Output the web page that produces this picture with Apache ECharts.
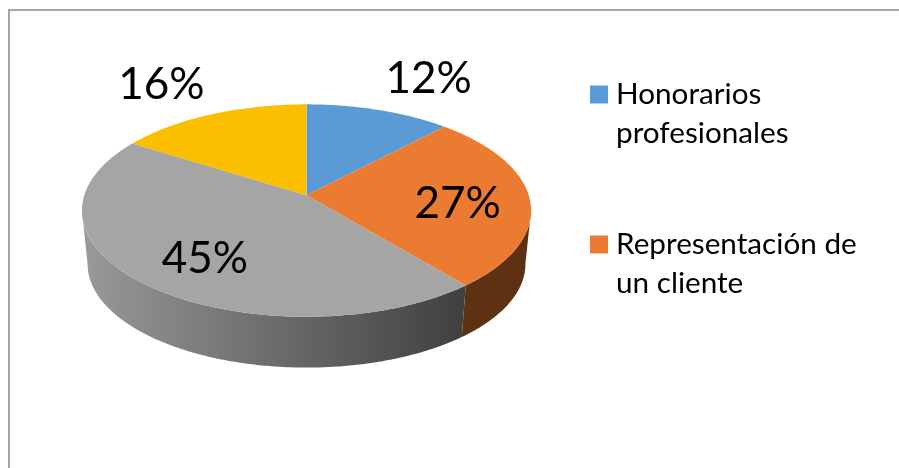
<!DOCTYPE html>
<html lang="es">
<head>
    <meta charset="UTF-8">
    <title>pie 3d</title>
    <script src="https://cdn.jsdelivr.net/npm/echarts@6/dist/echarts.min.js"></script>
    <style>
        html, body { margin: 0; padding: 0; background: #fff; }
    </style>
</head>
<body>
<div id="main" style="width: 899px;height:468px;"></div>

<script type="text/javascript">

    var categories = ['Honorarios profesionales', 'Representación de un cliente', 'Otros gastos', 'Otros ingresos'];
    var values = [12, 27, 45, 16];
    var legendNames = ['Honorarios profesionales', 'Representación de un cliente'];

    var topColors = ['#5B9BD5', '#EA7B31', '#A5A5A5', '#FBBF00'];
    var sideColors = ['#3A6A96', '#5F3113', null, '#A88000'];
    var labelOffsets = [[50, -31], [-72, 5], [63, -24], [-50, -30]];

    // tilted disc, the far side is a bit smaller like in the office 3d pie
    var cx = 306.5, cy = 195.3, rx = 222.2, ry = 104, persp = 0.1436;
    var depth = { scale: 0.975, ellipseY: 210.5, shift: 53.5 };

    var total = values.reduce(function (a, b) { return a + b; }, 0);

    var rimPoint = function (angle) {
        var u = Math.sin(angle), v = Math.cos(angle);
        var w = 1 + persp * v;
        return [cx + rx * u / w, cy - ry * v / w];
    };

    var lowerPoint = function (p) {
        return [
            cx + (p[0] - cx) * depth.scale,
            depth.ellipseY + depth.shift + (p[1] - depth.ellipseY) * depth.scale
        ];
    };

    var arcPoints = function (start, end) {
        var pts = [];
        var n = Math.max(1, Math.ceil((end - start) / 0.01));
        for (var i = 0; i <= n; i++) {
            pts.push(rimPoint(start + (end - start) * i / n));
        }
        return pts;
    };

    // only the front of the rim is visible, between the two widest points
    var frontStart = Math.acos(-persp);
    var frontEnd = Math.PI * 2 - frontStart;

    var makeSeries = function (index) {
        return {
            name: categories[index],
            type: 'custom',
            coordinateSystem: 'none',
            silent: true,
            animation: false,
            itemStyle: { color: topColors[index] },
            data: [[values[index]]],
            renderItem: function (params, api) {
                var before = 0;
                for (var i = 0; i < index; i++) before += values[i];
                var start = before / total * Math.PI * 2;
                var end = (before + api.value(0)) / total * Math.PI * 2;
                var arc = arcPoints(start, end);
                var mid = rimPoint((start + end) / 2);
                var children = [];

                var sideStart = Math.max(start, frontStart);
                var sideEnd = Math.min(end, frontEnd);
                if (sideEnd > sideStart) {
                    var front = arcPoints(sideStart, sideEnd);
                    children.push({
                        type: 'polygon',
                        z2: 1,
                        shape: { points: front.concat(front.map(lowerPoint).reverse()) },
                        style: {
                            fill: sideColors[index] || {
                                type: 'linear', x: 82, y: 0, x2: 531, y2: 0, global: true,
                                colorStops: [
                                    { offset: 0, color: '#999999' },
                                    { offset: 0.85, color: '#404040' },
                                    { offset: 1, color: '#3c3c3c' }
                                ]
                            }
                        }
                    });
                }
                children.push({
                    type: 'polygon',
                    z2: 2,
                    shape: { points: [[cx, cy]].concat(arc) },
                    style: { fill: topColors[index] }
                });
                children.push({
                    type: 'text',
                    z2: 3,
                    x: mid[0] + labelOffsets[index][0],
                    y: mid[1] + labelOffsets[index][1],
                    style: {
                        text: api.value(0) + '%',
                        fill: '#000',
                        font: '44px Lato',
                        align: 'center',
                        verticalAlign: 'middle'
                    }
                });
                return { type: 'group', children: children };
            }
        };
    };

    var series = [];
    for (var s = 0; s < values.length; s++) {
        series.push(makeSeries(s));
    }

    var wrapName = {
        'Honorarios profesionales': '\nHonorarios\nprofesionales',
        'Representación de un cliente': '\nRepresentación de\nun cliente'
    };

    var option = {
        backgroundColor: '#fff',
        animation: false,
        legend: {
            orient: 'vertical',
            left: 590,
            top: 36,
            padding: 0,
            itemWidth: 18,
            itemHeight: 18,
            itemGap: 33,
            icon: 'rect',
            selectedMode: false,
            data: legendNames,
            formatter: function (name) {
                return wrapName[name];
            },
            textStyle: {
                color: '#000',
                fontFamily: 'Lato',
                fontSize: 29.7,
                lineHeight: 39,
                padding: [0, 0, 0, 3]
            }
        },
        graphic: [
            {
                type: 'polyline',
                silent: true,
                shape: { points: [[9, 468], [9, 10], [899, 10]] },
                style: { fill: null, stroke: '#a6a6a6', lineWidth: 2 }
            }
        ],
        series: series
    };

    var myChart = echarts.init(document.getElementById('main'));
    myChart.setOption(option);

</script>
</body>
</html>
